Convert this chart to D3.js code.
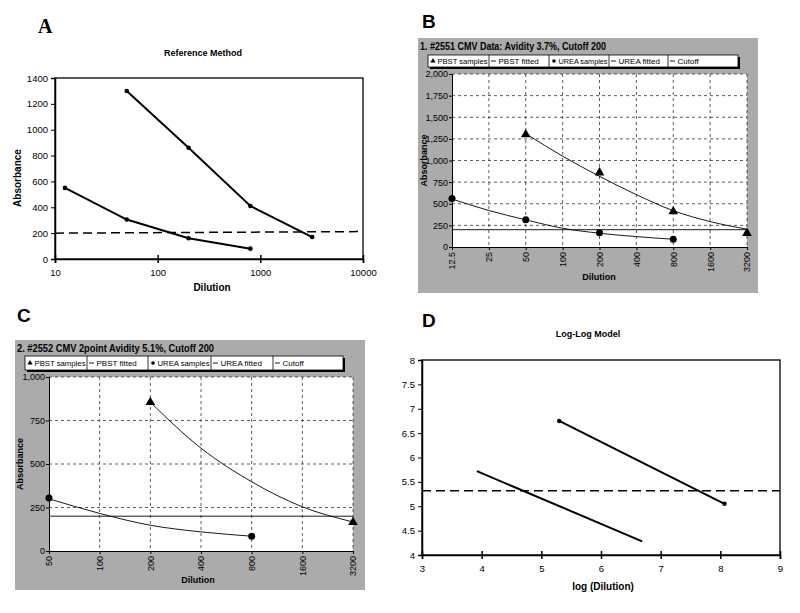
<!DOCTYPE html>
<html><head><meta charset="utf-8">
<script src="https://cdn.jsdelivr.net/npm/d3@7"></script>
<style>
body{margin:0;background:#fff;}
text{font-family:"Liberation Sans",Arial,sans-serif;fill:#000;}
</style></head>
<body>
<svg id="c" width="800" height="613"></svg>
<script>
// ---------- DATA ----------
// Panel A
const aHighDil = [50, 200, 800, 3200];
const aHighAbs = [1300, 860, 410, 170];
const aLowDil = [12.5, 50, 200, 800];
const aLowAbs = [550, 305, 160, 80];
const aCutoff = [200, 212];
const aXTicks = [10, 100, 1000, 10000];
const aYTicks = [0, 200, 400, 600, 800, 1000, 1200, 1400];

// Panel B
const bTitle = "1. #2551 CMV Data: Avidity  3.7%, Cutoff 200";
const bXTicks = [12.5, 25, 50, 100, 200, 400, 800, 1600, 3200];
const bXLabels = ["12.5", "25", "50", "100", "200", "400", "800", "1600", "3200"];
const bYTicks = [0, 250, 500, 750, 1000, 1250, 1500, 1750, 2000];
const bPbstDil = [50, 200, 800, 3200];
const bPbstAbs = [1300, 860, 410, 160];
const bUreaDil = [12.5, 50, 200, 800];
const bUreaAbs = [560, 315, 165, 90];
const bPbstFitDil = [50, 100, 200, 400, 800, 1600, 3200];
const bPbstFitAbs = [1310, 1050, 817, 605, 420, 294, 206];
const bUreaFitDil = [12.5, 25, 50, 100, 200, 400, 800];
const bUreaFitAbs = [555, 422, 314, 217, 159, 120, 90];
const bCutoff = 200;

// Panel C
const cTitle = "2. #2552 CMV 2point  Avidity  5.1%, Cutoff 200";
const cXTicks = [50, 100, 200, 400, 800, 1600, 3200];
const cXLabels = ["50", "100", "200", "400", "800", "1600", "3200"];
const cYTicks = [0, 250, 500, 750, 1000];
const cPbstDil = [200, 3200];
const cPbstAbs = [855, 165];
const cUreaDil = [50, 800];
const cUreaAbs = [305, 85];
const cPbstFitDil = [200, 400, 800, 1600, 3200];
const cPbstFitAbs = [855, 591, 398, 254, 167];
const cUreaFitDil = [50, 100, 200, 400, 800];
const cUreaFitAbs = [300, 216, 148, 110, 85];
const cCutoff = 200;

// Panel D
const dLine1X = [5.3, 8.07];
const dLine1Y = [6.75, 5.05];
const dLine2X = [3.92, 6.69];
const dLine2Y = [5.72, 4.28];
const dCutoff = 5.32;
const dXTicks = [3, 4, 5, 6, 7, 8, 9];
const dYTicks = [4, 4.5, 5, 5.5, 6, 6.5, 7, 7.5, 8];

const legendItems = ["PBST samples", "PBST fitted", "UREA samples", "UREA fitted", "Cutoff"];

// ---------- DRAW ----------
const svg = d3.select("#c");
const zip = (xs, ys) => xs.map((x, i) => [x, ys[i]]);
const fmtComma = d3.format(",");

// ===== Panel A =====
(function(){
  const g = svg.append("g");
  const x = d3.scaleLog().domain([10, 10000]).range([55, 363]);
  const y = d3.scaleLinear().domain([0, 1400]).range([259, 78]);
  g.append("text").attr("x", 38).attr("y", 33).text("A")
    .style("font-family", "'Liberation Serif',serif").style("font-weight", "bold").style("font-size", "20px");
  g.append("text").attr("x", 203).attr("y", 56).attr("text-anchor", "middle").text("Reference Method")
    .style("font-weight", "bold").style("font-size", "9px");
  g.append("rect").attr("x", 55).attr("y", 78).attr("width", 308).attr("height", 181)
    .attr("fill", "none").attr("stroke", "#000").attr("stroke-width", 1.3);
  const ya = g.append("g").attr("transform", "translate(55,0)")
    .call(d3.axisLeft(y).tickValues(aYTicks).tickFormat(d3.format("d")).tickSize(4).tickPadding(3));
  ya.selectAll("text").style("font-size", "9.5px");
  ya.select(".domain").attr("stroke-width", 1.5);
  const xa = g.append("g").attr("transform", "translate(0,259)")
    .call(d3.axisBottom(x).tickValues(aXTicks).tickFormat(d3.format("d")).tickSize(4).tickPadding(6));
  xa.selectAll(".tick line").attr("y1", -4).attr("stroke-width", 1.5);
  xa.selectAll("text").style("font-size", "9.5px");
  xa.select(".domain").attr("stroke-width", 1.5);
  g.append("text").attr("x", 212).attr("y", 291).attr("text-anchor", "middle").text("Dilution")
    .style("font-weight", "bold").style("font-size", "10px");
  g.append("text").attr("transform", "translate(21,178) rotate(-90)").attr("text-anchor", "middle").text("Absorbance")
    .style("font-weight", "bold").style("font-size", "10px");
  g.append("line").attr("x1", x(10)).attr("x2", x(10000)).attr("y1", y(aCutoff[0])).attr("y2", y(aCutoff[1]))
    .attr("stroke", "#000").attr("stroke-width", 1.5).attr("stroke-dasharray", "9,5");
  const line = d3.line().x(d => x(d[0])).y(d => y(d[1]));
  [zip(aHighDil, aHighAbs), zip(aLowDil, aLowAbs)].forEach(s => {
    g.append("path").attr("d", line(s)).attr("fill", "none").attr("stroke", "#000").attr("stroke-width", 2);
    g.selectAll(null).data(s).enter().append("circle").attr("cx", d => x(d[0])).attr("cy", d => y(d[1])).attr("r", 2.3).attr("fill", "#000");
  });
})();

// ===== Software panels (B, C) =====
function softPanel(opt){
  const g = svg.append("g");
  g.append("text").attr("x", opt.letterX).attr("y", opt.letterY).text(opt.letter)
    .style("font-weight", "bold").style("font-size", "19px");
  g.append("rect").attr("x", opt.gx).attr("y", opt.gy).attr("width", opt.gw).attr("height", opt.gh).attr("fill", "#ababab");
  g.append("text").attr("x", opt.gx + 2).attr("y", opt.gy + 12).text(opt.title)
    .style("font-weight", "bold").style("font-size", "11px").attr("textLength", opt.titleLen).attr("lengthAdjust", "spacingAndGlyphs");
  // legend
  const L = opt.legend;
  g.append("rect").attr("x", L.x + 2).attr("y", L.y + 2).attr("width", L.w).attr("height", L.h).attr("fill", "#000");
  g.append("rect").attr("x", L.x).attr("y", L.y).attr("width", L.w).attr("height", L.h).attr("fill", "#fff").attr("stroke", "#000").attr("stroke-width", 0.8);
  const edges = [L.x].concat(L.div).concat([L.x + L.w]);
  legendItems.forEach((name, i) => {
    const x0 = edges[i];
    const cellW = edges[i + 1] - x0;
    if (i > 0) g.append("line").attr("x1", x0).attr("x2", x0).attr("y1", L.y).attr("y2", L.y + L.h).attr("stroke", "#000").attr("stroke-width", 0.8);
    const cy = L.y + L.h / 2;
    if (i === 0) g.append("path").attr("d", d3.symbol(d3.symbolTriangle, 12)()).attr("transform", `translate(${x0 + 5},${cy})`);
    else if (i === 2) g.append("circle").attr("cx", x0 + 5).attr("cy", cy).attr("r", 1.8);
    else g.append("line").attr("x1", x0 + 2).attr("x2", x0 + 7).attr("y1", cy).attr("y2", cy).attr("stroke", "#000").attr("stroke-width", 0.9);
    const t = g.append("text").attr("x", x0 + 9.5).attr("y", cy + 3).text(name).style("font-size", "8px");
    const avail = cellW - 11;
    if (t.node().getComputedTextLength() > avail) t.attr("textLength", avail).attr("lengthAdjust", "spacingAndGlyphs");
  });
  // plot
  const P = opt.plot;
  const x = d3.scaleLog().base(2).domain([opt.xTicks[0], opt.xTicks[opt.xTicks.length - 1]]).range([P.x, P.x + P.w]);
  const y = d3.scaleLinear().domain([0, opt.yMax]).range([P.y + P.h, P.y]);
  g.append("rect").attr("x", P.x).attr("y", P.y).attr("width", P.w).attr("height", P.h).attr("fill", "#fff");
  g.selectAll(null).data(opt.xTicks.slice(1)).enter().append("line")
    .attr("x1", d => x(d)).attr("x2", d => x(d)).attr("y1", P.y).attr("y2", P.y + P.h)
    .attr("stroke", "#333").attr("stroke-width", 0.8).attr("stroke-dasharray", "3,3");
  g.selectAll(null).data(opt.yTicks.slice(1)).enter().append("line")
    .attr("x1", P.x).attr("x2", P.x + P.w).attr("y1", d => y(d)).attr("y2", d => y(d))
    .attr("stroke", "#333").attr("stroke-width", 0.8).attr("stroke-dasharray", "3,3");
  const ya = g.append("g").attr("transform", `translate(${P.x},0)`)
    .call(d3.axisLeft(y).tickValues(opt.yTicks).tickFormat(fmtComma).tickSize(3).tickPadding(1));
  ya.selectAll("text").style("font-size", "9px");
  const xa = g.append("g").attr("transform", `translate(0,${P.y + P.h})`)
    .call(d3.axisBottom(x).tickValues(opt.xTicks).tickFormat((d, i) => opt.xLabels[i]).tickSize(3));
  xa.selectAll("text").attr("transform", "rotate(-90)").attr("text-anchor", "end").attr("x", -5).attr("y", 0).attr("dy", "0.32em").style("font-size", "9px");
  g.append("text").attr("x", opt.xLabelX).attr("y", opt.xLabelY).attr("text-anchor", "middle").text("Dilution")
    .style("font-weight", "bold").style("font-size", "9px");
  g.append("text").attr("transform", `translate(${opt.yLabelX},${P.y + P.h / 2}) rotate(-90)`).attr("text-anchor", "middle").text("Absorbance")
    .style("font-weight", "bold").style("font-size", "9px");
  g.append("line").attr("x1", P.x).attr("x2", P.x + P.w).attr("y1", y(opt.cutoff)).attr("y2", y(opt.cutoff))
    .attr("stroke", "#000").attr("stroke-width", 0.9);
  const curve = d3.line().x(d => x(d[0])).y(d => y(d[1])).curve(d3.curveMonotoneX);
  [opt.pbstFit, opt.ureaFit].forEach(s => {
    g.append("path").attr("d", curve(s)).attr("fill", "none").attr("stroke", "#000").attr("stroke-width", 0.9);
  });
  g.selectAll(null).data(opt.pbst).enter().append("path")
    .attr("d", d3.symbol(d3.symbolTriangle, 40)()).attr("transform", d => `translate(${x(d[0])},${y(d[1])})`);
  g.selectAll(null).data(opt.urea).enter().append("circle")
    .attr("cx", d => x(d[0])).attr("cy", d => y(d[1])).attr("r", 3.5);
}

softPanel({
  letter: "B", letterX: 422, letterY: 28,
  gx: 418, gy: 38, gw: 340, gh: 255,
  title: bTitle, titleLen: 186,
  legend: {x: 428, y: 55, w: 310, h: 12, div: [489, 549, 609, 668]},
  plot: {x: 452, y: 74, w: 295, h: 173},
  xTicks: bXTicks, xLabels: bXLabels, yTicks: bYTicks, yMax: 2000,
  xLabelX: 599, xLabelY: 280, yLabelX: 427,
  cutoff: bCutoff,
  pbst: zip(bPbstDil, bPbstAbs), urea: zip(bUreaDil, bUreaAbs),
  pbstFit: zip(bPbstFitDil, bPbstFitAbs), ureaFit: zip(bUreaFitDil, bUreaFitAbs)
});

softPanel({
  letter: "C", letterX: 17, letterY: 322,
  gx: 15, gy: 340, gw: 350, gh: 250,
  title: cTitle, titleLen: 197,
  legend: {x: 25, y: 356, w: 318, h: 14, div: [87, 148, 211, 273]},
  plot: {x: 49, y: 377, w: 304, h: 174},
  xTicks: cXTicks, xLabels: cXLabels, yTicks: cYTicks, yMax: 1000,
  xLabelX: 198, xLabelY: 583, yLabelX: 23,
  cutoff: cCutoff,
  pbst: zip(cPbstDil, cPbstAbs), urea: zip(cUreaDil, cUreaAbs),
  pbstFit: zip(cPbstFitDil, cPbstFitAbs), ureaFit: zip(cUreaFitDil, cUreaFitAbs)
});

// ===== Panel D =====
(function(){
  const g = svg.append("g");
  const x = d3.scaleLinear().domain([3, 9]).range([422, 780]);
  const y = d3.scaleLinear().domain([4, 8]).range([555, 360]);
  g.append("text").attr("x", 422).attr("y", 327).text("D").style("font-weight", "bold").style("font-size", "19px");
  g.append("text").attr("x", 588).attr("y", 337).attr("text-anchor", "middle").text("Log-Log Model")
    .style("font-weight", "bold").style("font-size", "9px");
  g.append("rect").attr("x", 422).attr("y", 360).attr("width", 358).attr("height", 195)
    .attr("fill", "none").attr("stroke", "#000").attr("stroke-width", 1.3);
  const ya = g.append("g").attr("transform", "translate(422,0)")
    .call(d3.axisLeft(y).tickValues(dYTicks).tickFormat(d3.format("~g")).tickSize(4).tickPadding(3));
  ya.selectAll("text").style("font-size", "9.5px");
  ya.select(".domain").attr("stroke-width", 1.5);
  const xa = g.append("g").attr("transform", "translate(0,555)")
    .call(d3.axisBottom(x).tickValues(dXTicks).tickFormat(d3.format("d")).tickSize(4).tickPadding(6));
  xa.selectAll(".tick line").attr("y1", -4).attr("stroke-width", 1.5);
  xa.selectAll("text").style("font-size", "9.5px");
  xa.select(".domain").attr("stroke-width", 1.5);
  g.append("text").attr("x", 603).attr("y", 590).attr("text-anchor", "middle").text("log (Dilution)")
    .style("font-weight", "bold").style("font-size", "10px");
  g.append("line").attr("x1", x(3)).attr("x2", x(9)).attr("y1", y(dCutoff)).attr("y2", y(dCutoff))
    .attr("stroke", "#000").attr("stroke-width", 1.5).attr("stroke-dasharray", "9,5");
  const line = d3.line().x(d => x(d[0])).y(d => y(d[1]));
  [zip(dLine1X, dLine1Y), zip(dLine2X, dLine2Y)].forEach((s, k) => {
    g.append("path").attr("d", line(s)).attr("fill", "none").attr("stroke", "#000").attr("stroke-width", 2);
    if (k === 0) g.selectAll(null).data(s).enter().append("circle").attr("cx", d => x(d[0])).attr("cy", d => y(d[1])).attr("r", 2.2);
  });
})();
</script>
</body></html>
